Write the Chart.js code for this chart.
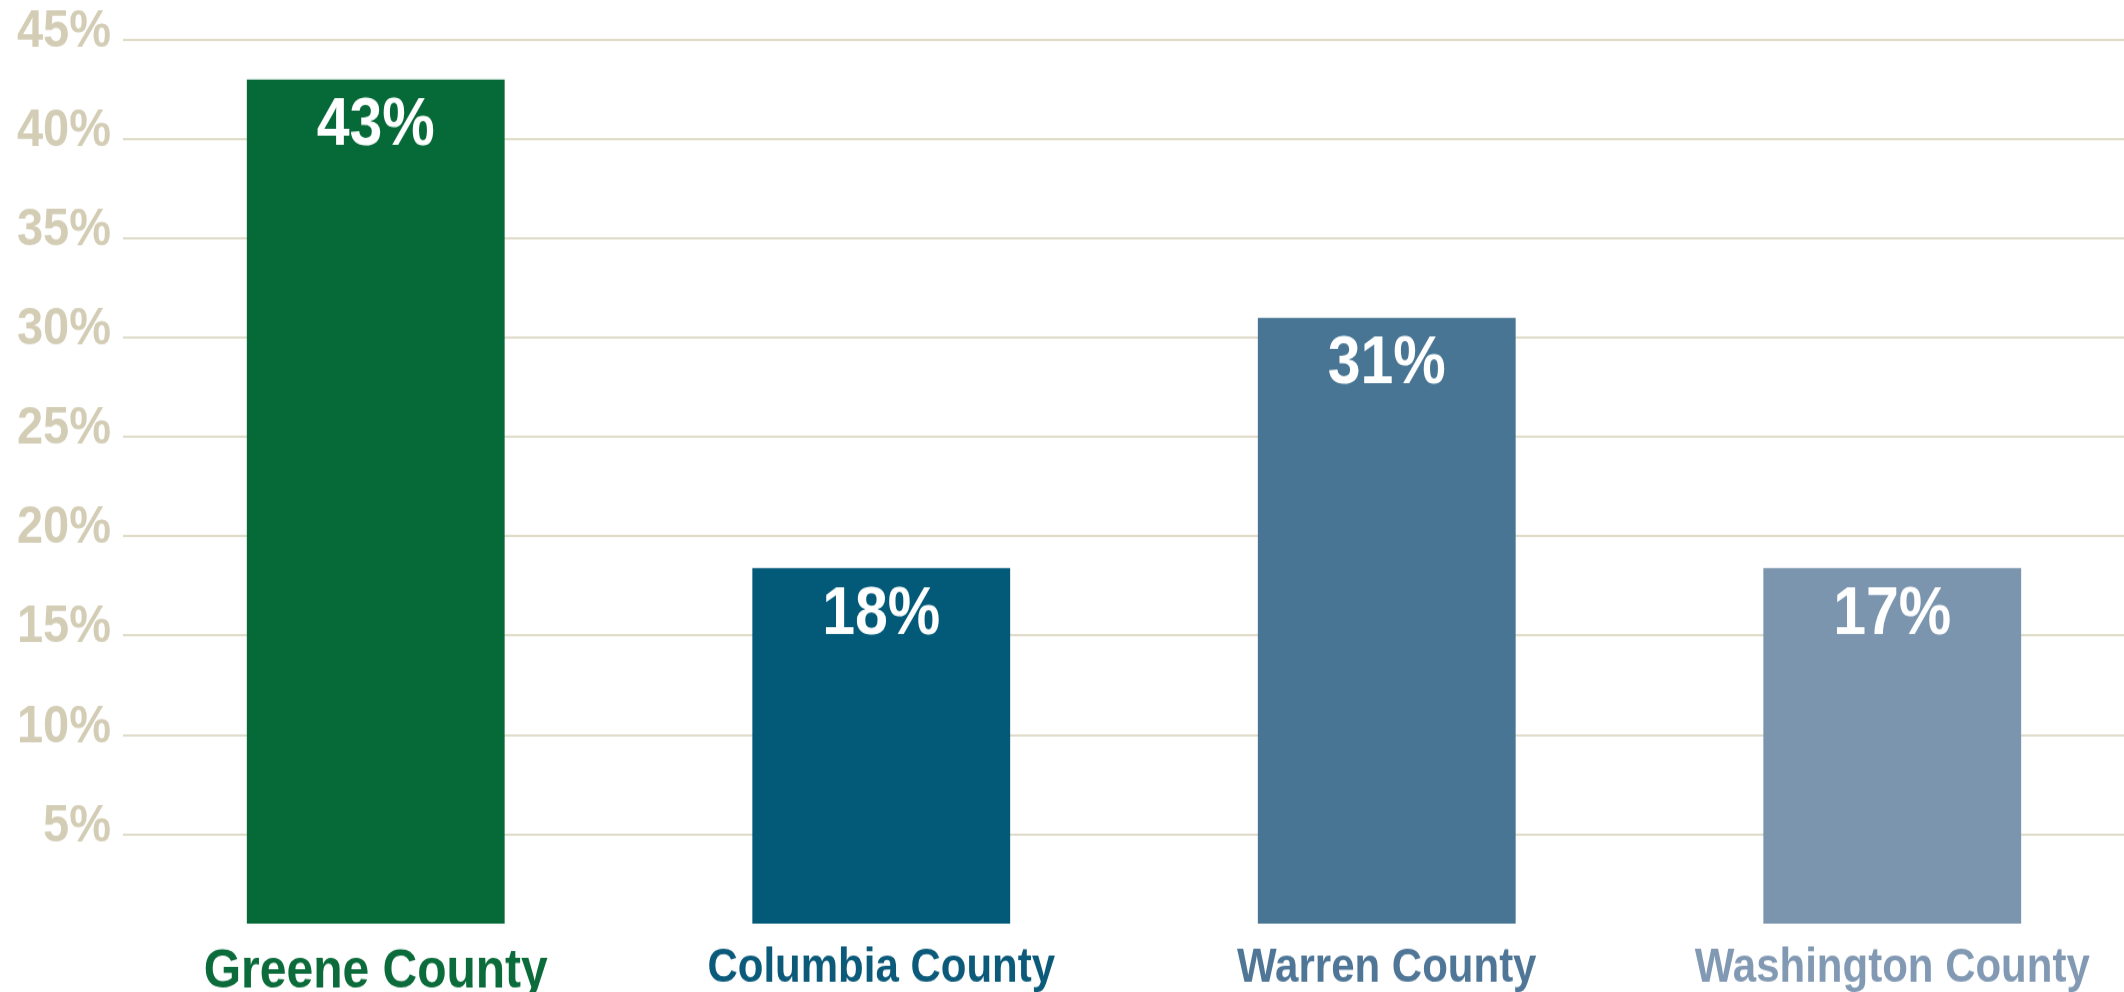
<!DOCTYPE html>
<html lang="en">
<head>
    <meta charset="UTF-8">
    <title>County comparison</title>
    <script src="https://cdn.jsdelivr.net/npm/chart.js"></script>
    <style>
        html, body {
            margin: 0;
            padding: 0;
            background: #ffffff;
            overflow: hidden;
        }
        .chart-box {
            width: 2124px;
            height: 992px;
            overflow: hidden;
        }
        canvas {
            display: block;
        }
    </style>
</head>
<body>
    <div class="chart-box">
        <!-- the original picture is stretched a little in height, so the canvas is drawn at 870 and shown at 992 -->
        <canvas id="county-chart" width="2145" height="870" style="width:2145px;height:992px;"></canvas>
    </div>

    <script>
        const counties = ['Greene County', 'Columbia County', 'Warren County', 'Washington County'];
        const barValues = [43, 18.4, 31, 18.4];
        const valueLabels = ['43%', '18%', '31%', '17%'];
        const yTicks = [5, 10, 15, 20, 25, 30, 35, 40, 45];

        const barColors = ['#066a38', '#025a78', '#487594', '#7b95ae'];
        const labelColors = ['#0b6b3a', '#0b5a7a', '#4f7696', '#8299b3'];
        const beige = '#d3cdb5';
        const gridBeige = '#e0dccb';

        // white percentage written inside the top of each bar
        const valueTextPlugin = {
            id: 'valueText',
            afterDatasetsDraw(chart) {
                const ctx = chart.ctx;
                const meta = chart.getDatasetMeta(0);
                ctx.save();
                ctx.fillStyle = '#ffffff';
                ctx.font = 'bold 59px "Liberation Sans", Arial, sans-serif';
                ctx.textAlign = 'center';
                ctx.textBaseline = 'middle';
                meta.data.forEach(function(bar, i) {
                    ctx.fillText(valueLabels[i], bar.x, bar.y + 41);
                });
                ctx.restore();
            }
        };

        const ctx = document.getElementById('county-chart').getContext('2d');

        const countyChart = new Chart(ctx, {
            type: 'bar',
            data: {
                labels: counties,
                datasets: [{
                    data: barValues,
                    backgroundColor: barColors,
                    borderWidth: 0,
                    categoryPercentage: 1,
                    barPercentage: 0.51
                }]
            },
            options: {
                responsive: false,
                animation: false,
                layout: { padding: { top: 35, right: 0, bottom: 0, left: 0 } },
                plugins: {
                    legend: { display: false },
                    tooltip: { enabled: false }
                },
                scales: {
                    x: {
                        grid: { display: false },
                        border: { display: false },
                        ticks: {
                            padding: 6,
                            color: function(c) { return labelColors[c.index]; },
                            font: function(c) {
                                return {
                                    family: '"Liberation Sans", Arial, sans-serif',
                                    weight: 'bold',
                                    size: c.index === 0 ? 48 : 42
                                };
                            }
                        },
                        afterFit: function(scale) { scale.height = 60; }
                    },
                    y: {
                        min: 0.5,
                        max: 45,
                        border: { display: false },
                        grid: {
                            drawTicks: false,
                            lineWidth: 2,
                            color: function(c) {
                                return c.tick && yTicks.includes(c.tick.value) ? gridBeige : 'rgba(0,0,0,0)';
                            }
                        },
                        ticks: {
                            stepSize: 5,
                            padding: 12,
                            labelOffset: -7,
                            color: beige,
                            font: { family: '"Liberation Sans", Arial, sans-serif', weight: 'bold', size: 47 },
                            callback: function(v) { return yTicks.includes(v) ? v + '%' : ''; }
                        },
                        afterFit: function(scale) {
                            scale.width = 123;
                            scale.paddingTop = 0;
                            scale.paddingBottom = 0;
                        }
                    }
                }
            },
            plugins: [valueTextPlugin]
        });
    </script>
</body>
</html>
